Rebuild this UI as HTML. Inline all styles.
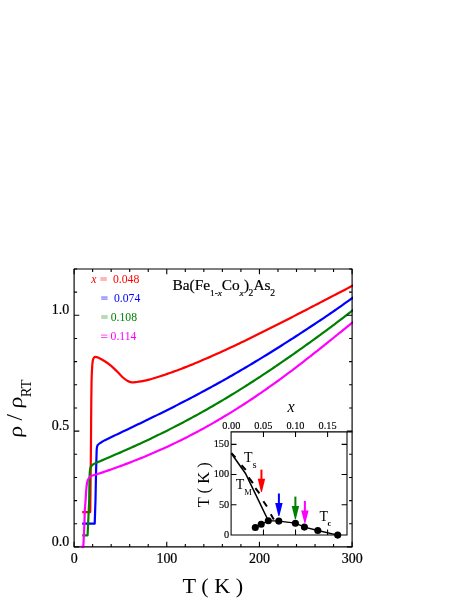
<!DOCTYPE html>
<html><head><meta charset="utf-8"><title>Resistivity</title>
<style>html,body{margin:0;padding:0;background:#fff;}svg{display:block;will-change:transform;}text{font-family:"Liberation Serif",serif;}</style>
</head><body>
<svg width="463" height="599" viewBox="0 0 463 599">
<rect width="463" height="599" fill="#fff"/>
<defs><clipPath id="c"><rect x="74.10" y="269.00" width="278.90" height="279.90"/></clipPath></defs>
<g fill="none" stroke-width="2.20" stroke-linejoin="round" stroke-linecap="butt" clip-path="url(#c)">
<path d="M82.20,512.10 L90.20,512.10 L90.50,490.00 C90.58,481.67 90.87,455.00 91.00,440.00 C91.13,425.00 91.20,410.00 91.30,400.00 C91.40,390.00 91.47,385.33 91.60,380.00 C91.73,374.67 91.90,371.25 92.10,368.00 C92.30,364.75 92.48,362.23 92.80,360.50 C93.12,358.77 93.53,358.20 94.00,357.60 C94.47,357.00 94.93,356.90 95.60,356.90 C96.27,356.90 96.53,356.92 98.00,357.60 C99.47,358.28 102.25,359.67 104.40,361.00 C106.55,362.33 108.73,363.80 110.90,365.60 C113.07,367.40 115.45,369.87 117.40,371.80 C119.35,373.73 120.87,375.67 122.60,377.20 C124.33,378.73 126.30,380.15 127.80,381.00 C129.30,381.85 130.10,382.13 131.60,382.30 C133.10,382.47 135.23,382.14 136.80,382.00 C138.37,381.86 139.63,381.68 141.00,381.45 C142.37,381.22 143.67,380.91 145.00,380.60 C146.33,380.29 147.67,379.97 149.00,379.61 C150.33,379.26 151.67,378.86 153.00,378.46 C154.33,378.07 155.67,377.67 157.00,377.26 C158.33,376.84 159.67,376.42 161.00,375.99 C162.33,375.56 163.67,375.12 165.00,374.67 C166.33,374.22 167.67,373.76 169.00,373.30 C170.33,372.83 171.67,372.36 173.00,371.88 C174.33,371.40 175.67,370.91 177.00,370.42 C178.33,369.92 179.67,369.42 181.00,368.91 C182.33,368.40 183.67,367.89 185.00,367.36 C186.33,366.84 187.67,366.31 189.00,365.78 C190.33,365.25 191.67,364.70 193.00,364.16 C194.33,363.61 195.67,363.06 197.00,362.51 C198.33,361.95 199.67,361.39 201.00,360.82 C202.33,360.26 203.67,359.68 205.00,359.11 C206.33,358.53 207.67,357.95 209.00,357.37 C210.33,356.78 211.67,356.19 213.00,355.60 C214.33,355.00 215.67,354.41 217.00,353.80 C218.33,353.20 219.67,352.60 221.00,351.99 C222.33,351.38 223.67,350.77 225.00,350.15 C226.33,349.54 227.67,348.92 229.00,348.29 C230.33,347.67 231.67,347.05 233.00,346.42 C234.33,345.79 235.67,345.16 237.00,344.52 C238.33,343.89 239.67,343.25 241.00,342.61 C242.33,341.97 243.67,341.33 245.00,340.69 C246.33,340.04 247.67,339.39 249.00,338.74 C250.33,338.09 251.67,337.44 253.00,336.79 C254.33,336.13 255.67,335.48 257.00,334.82 C258.33,334.16 259.67,333.50 261.00,332.84 C262.33,332.18 263.67,331.51 265.00,330.85 C266.33,330.18 267.67,329.51 269.00,328.84 C270.33,328.17 271.67,327.50 273.00,326.83 C274.33,326.16 275.67,325.48 277.00,324.81 C278.33,324.13 279.67,323.45 281.00,322.78 C282.33,322.10 283.67,321.42 285.00,320.74 C286.33,320.06 287.67,319.37 289.00,318.69 C290.33,318.01 291.67,317.32 293.00,316.64 C294.33,315.95 295.67,315.27 297.00,314.58 C298.33,313.89 299.67,313.20 301.00,312.51 C302.33,311.83 303.67,311.14 305.00,310.45 C306.33,309.76 307.67,309.06 309.00,308.37 C310.33,307.68 311.67,306.99 313.00,306.30 C314.33,305.60 315.67,304.91 317.00,304.22 C318.33,303.53 319.67,302.83 321.00,302.14 C322.33,301.44 323.67,300.75 325.00,300.06 C326.33,299.36 327.67,298.67 329.00,297.97 C330.33,297.28 331.67,296.59 333.00,295.89 C334.33,295.20 335.67,294.51 337.00,293.81 C338.33,293.12 339.67,292.43 341.00,291.74 C342.33,291.05 343.67,290.35 345.00,289.66 C346.33,288.97 347.67,288.28 349.00,287.59 C350.33,286.91 352.25,285.92 353.00,285.53 C353.75,285.14 353.42,285.32 353.50,285.27" stroke="#ff0000"/>
<path d="M82.20,523.70 L94.70,523.70 L95.50,500.00 C95.60,495.00 95.92,478.00 96.10,470.00 C96.28,462.00 96.46,455.78 96.60,452.00 C96.74,448.22 96.77,448.43 96.95,447.30 C97.13,446.17 97.28,445.83 97.70,445.20 C98.12,444.57 98.87,443.98 99.50,443.50 C100.13,443.02 100.75,442.78 101.50,442.30 C102.25,441.82 102.92,441.21 104.00,440.61 C105.08,440.01 106.67,439.34 108.00,438.70 C109.33,438.06 110.67,437.43 112.00,436.79 C113.33,436.15 114.67,435.52 116.00,434.88 C117.33,434.24 118.67,433.61 120.00,432.97 C121.33,432.34 122.67,431.70 124.00,431.06 C125.33,430.43 126.67,429.79 128.00,429.15 C129.33,428.52 130.67,427.88 132.00,427.24 C133.33,426.60 134.67,425.96 136.00,425.32 C137.33,424.68 138.67,424.04 140.00,423.40 C141.33,422.75 142.67,422.11 144.00,421.46 C145.33,420.82 146.67,420.17 148.00,419.52 C149.33,418.88 150.67,418.23 152.00,417.57 C153.33,416.92 154.67,416.27 156.00,415.62 C157.33,414.96 158.67,414.30 160.00,413.64 C161.33,412.99 162.67,412.33 164.00,411.66 C165.33,411.00 166.67,410.33 168.00,409.67 C169.33,409.00 170.67,408.33 172.00,407.66 C173.33,406.98 174.67,406.31 176.00,405.63 C177.33,404.95 178.67,404.27 180.00,403.59 C181.33,402.91 182.67,402.22 184.00,401.54 C185.33,400.85 186.67,400.16 188.00,399.46 C189.33,398.77 190.67,398.07 192.00,397.37 C193.33,396.67 194.67,395.97 196.00,395.26 C197.33,394.56 198.67,393.85 200.00,393.14 C201.33,392.43 202.67,391.71 204.00,390.99 C205.33,390.28 206.67,389.55 208.00,388.83 C209.33,388.10 210.67,387.38 212.00,386.65 C213.33,385.91 214.67,385.18 216.00,384.44 C217.33,383.70 218.67,382.96 220.00,382.22 C221.33,381.47 222.67,380.73 224.00,379.98 C225.33,379.22 226.67,378.47 228.00,377.71 C229.33,376.95 230.67,376.19 232.00,375.43 C233.33,374.66 234.67,373.89 236.00,373.12 C237.33,372.35 238.67,371.58 240.00,370.80 C241.33,370.02 242.67,369.24 244.00,368.45 C245.33,367.67 246.67,366.88 248.00,366.09 C249.33,365.30 250.67,364.50 252.00,363.70 C253.33,362.90 254.67,362.10 256.00,361.30 C257.33,360.49 258.67,359.68 260.00,358.87 C261.33,358.06 262.67,357.25 264.00,356.43 C265.33,355.61 266.67,354.79 268.00,353.97 C269.33,353.14 270.67,352.32 272.00,351.49 C273.33,350.66 274.67,349.82 276.00,348.99 C277.33,348.15 278.67,347.31 280.00,346.47 C281.33,345.63 282.67,344.78 284.00,343.94 C285.33,343.09 286.67,342.24 288.00,341.39 C289.33,340.54 290.67,339.68 292.00,338.82 C293.33,337.97 294.67,337.11 296.00,336.24 C297.33,335.38 298.67,334.52 300.00,333.65 C301.33,332.78 302.67,331.91 304.00,331.04 C305.33,330.17 306.67,329.30 308.00,328.42 C309.33,327.55 310.67,326.67 312.00,325.79 C313.33,324.91 314.67,324.03 316.00,323.15 C317.33,322.27 318.67,321.39 320.00,320.50 C321.33,319.61 322.67,318.71 324.00,317.81 C325.33,316.92 326.67,316.01 328.00,315.10 C329.33,314.19 330.67,313.28 332.00,312.36 C333.33,311.44 334.67,310.52 336.00,309.59 C337.33,308.66 338.67,307.73 340.00,306.79 C341.33,305.85 342.67,304.91 344.00,303.96 C345.33,303.02 346.67,302.07 348.00,301.12 C349.33,300.16 351.08,298.90 352.00,298.24 C352.92,297.59 353.25,297.34 353.50,297.16" stroke="#0000ff"/>
<path d="M82.20,535.30 L87.60,535.30 L89.20,500.00 C89.25,496.67 89.38,484.83 89.50,480.00 C89.62,475.17 89.68,473.17 89.90,471.00 C90.12,468.83 90.32,468.05 90.80,467.00 C91.28,465.95 91.93,465.39 92.80,464.70 C93.67,464.01 94.80,463.45 96.00,462.87 C97.20,462.28 98.67,461.75 100.00,461.19 C101.33,460.63 102.67,460.07 104.00,459.50 C105.33,458.94 106.67,458.37 108.00,457.80 C109.33,457.23 110.67,456.66 112.00,456.09 C113.33,455.52 114.67,454.94 116.00,454.36 C117.33,453.78 118.67,453.20 120.00,452.62 C121.33,452.03 122.67,451.45 124.00,450.86 C125.33,450.27 126.67,449.67 128.00,449.08 C129.33,448.48 130.67,447.88 132.00,447.28 C133.33,446.68 134.67,446.07 136.00,445.47 C137.33,444.86 138.67,444.24 140.00,443.63 C141.33,443.01 142.67,442.39 144.00,441.77 C145.33,441.15 146.67,440.52 148.00,439.89 C149.33,439.26 150.67,438.63 152.00,437.99 C153.33,437.35 154.67,436.71 156.00,436.07 C157.33,435.42 158.67,434.77 160.00,434.12 C161.33,433.47 162.67,432.81 164.00,432.15 C165.33,431.48 166.67,430.82 168.00,430.15 C169.33,429.48 170.67,428.80 172.00,428.13 C173.33,427.45 174.67,426.76 176.00,426.08 C177.33,425.39 178.67,424.70 180.00,424.00 C181.33,423.31 182.67,422.61 184.00,421.90 C185.33,421.20 186.67,420.49 188.00,419.77 C189.33,419.06 190.67,418.34 192.00,417.62 C193.33,416.90 194.67,416.17 196.00,415.44 C197.33,414.71 198.67,413.97 200.00,413.23 C201.33,412.49 202.67,411.74 204.00,410.99 C205.33,410.24 206.67,409.49 208.00,408.73 C209.33,407.97 210.67,407.20 212.00,406.43 C213.33,405.66 214.67,404.89 216.00,404.11 C217.33,403.34 218.67,402.55 220.00,401.77 C221.33,400.98 222.67,400.19 224.00,399.39 C225.33,398.59 226.67,397.79 228.00,396.99 C229.33,396.18 230.67,395.37 232.00,394.56 C233.33,393.74 234.67,392.92 236.00,392.10 C237.33,391.28 238.67,390.45 240.00,389.62 C241.33,388.78 242.67,387.95 244.00,387.10 C245.33,386.26 246.67,385.42 248.00,384.57 C249.33,383.72 250.67,382.86 252.00,382.01 C253.33,381.15 254.67,380.28 256.00,379.42 C257.33,378.55 258.67,377.68 260.00,376.80 C261.33,375.93 262.67,375.05 264.00,374.17 C265.33,373.28 266.67,372.40 268.00,371.51 C269.33,370.62 270.67,369.72 272.00,368.82 C273.33,367.92 274.67,367.02 276.00,366.12 C277.33,365.21 278.67,364.30 280.00,363.39 C281.33,362.48 282.67,361.56 284.00,360.64 C285.33,359.72 286.67,358.80 288.00,357.87 C289.33,356.94 290.67,356.01 292.00,355.08 C293.33,354.15 294.67,353.21 296.00,352.27 C297.33,351.33 298.67,350.39 300.00,349.45 C301.33,348.50 302.67,347.56 304.00,346.61 C305.33,345.66 306.67,344.70 308.00,343.75 C309.33,342.79 310.67,341.84 312.00,340.88 C313.33,339.92 314.67,338.96 316.00,337.99 C317.33,337.03 318.67,336.06 320.00,335.09 C321.33,334.12 322.67,333.14 324.00,332.16 C325.33,331.18 326.67,330.19 328.00,329.19 C329.33,328.20 330.67,327.20 332.00,326.19 C333.33,325.19 334.67,324.18 336.00,323.17 C337.33,322.15 338.67,321.13 340.00,320.11 C341.33,319.08 342.67,318.05 344.00,317.02 C345.33,315.99 346.67,314.95 348.00,313.91 C349.33,312.86 351.08,311.49 352.00,310.77 C352.92,310.05 353.25,309.78 353.50,309.59" stroke="#008000"/>
<path d="M81.30,546.90 L83.30,546.90 C83.35,545.92 83.42,544.82 83.60,541.00 C83.78,537.18 84.20,529.00 84.40,524.00 C84.60,519.00 84.60,515.00 84.80,511.00 C85.00,507.00 85.33,503.83 85.60,500.00 C85.87,496.17 86.10,491.10 86.40,488.00 C86.70,484.90 86.90,483.17 87.40,481.40 C87.90,479.63 88.55,478.38 89.40,477.40 C90.25,476.42 91.23,476.03 92.50,475.50 C93.77,474.97 95.58,474.68 97.00,474.24 C98.42,473.81 99.67,473.35 101.00,472.90 C102.33,472.45 103.67,472.00 105.00,471.54 C106.33,471.08 107.67,470.62 109.00,470.16 C110.33,469.69 111.67,469.22 113.00,468.75 C114.33,468.27 115.67,467.80 117.00,467.31 C118.33,466.83 119.67,466.34 121.00,465.85 C122.33,465.36 123.67,464.87 125.00,464.37 C126.33,463.86 127.67,463.36 129.00,462.85 C130.33,462.34 131.67,461.82 133.00,461.30 C134.33,460.78 135.67,460.26 137.00,459.73 C138.33,459.20 139.67,458.66 141.00,458.12 C142.33,457.58 143.67,457.03 145.00,456.48 C146.33,455.93 147.67,455.37 149.00,454.81 C150.33,454.25 151.67,453.68 153.00,453.10 C154.33,452.53 155.67,451.95 157.00,451.36 C158.33,450.78 159.67,450.18 161.00,449.59 C162.33,448.99 163.67,448.39 165.00,447.78 C166.33,447.17 167.67,446.55 169.00,445.93 C170.33,445.31 171.67,444.68 173.00,444.04 C174.33,443.41 175.67,442.77 177.00,442.12 C178.33,441.48 179.67,440.82 181.00,440.16 C182.33,439.50 183.67,438.84 185.00,438.17 C186.33,437.49 187.67,436.81 189.00,436.13 C190.33,435.44 191.67,434.75 193.00,434.06 C194.33,433.36 195.67,432.65 197.00,431.94 C198.33,431.23 199.67,430.51 201.00,429.79 C202.33,429.06 203.67,428.33 205.00,427.60 C206.33,426.86 207.67,426.12 209.00,425.37 C210.33,424.61 211.67,423.86 213.00,423.09 C214.33,422.33 215.67,421.56 217.00,420.78 C218.33,420.01 219.67,419.22 221.00,418.43 C222.33,417.64 223.67,416.85 225.00,416.04 C226.33,415.24 227.67,414.43 229.00,413.61 C230.33,412.80 231.67,411.98 233.00,411.15 C234.33,410.32 235.67,409.48 237.00,408.64 C238.33,407.80 239.67,406.95 241.00,406.09 C242.33,405.24 243.67,404.38 245.00,403.51 C246.33,402.64 247.67,401.77 249.00,400.89 C250.33,400.01 251.67,399.12 253.00,398.23 C254.33,397.34 255.67,396.44 257.00,395.53 C258.33,394.63 259.67,393.71 261.00,392.80 C262.33,391.88 263.67,390.96 265.00,390.03 C266.33,389.10 267.67,388.16 269.00,387.22 C270.33,386.28 271.67,385.33 273.00,384.38 C274.33,383.43 275.67,382.47 277.00,381.51 C278.33,380.54 279.67,379.57 281.00,378.60 C282.33,377.62 283.67,376.64 285.00,375.66 C286.33,374.67 287.67,373.68 289.00,372.69 C290.33,371.69 291.67,370.69 293.00,369.68 C294.33,368.68 295.67,367.66 297.00,366.65 C298.33,365.63 299.67,364.61 301.00,363.58 C302.33,362.56 303.67,361.53 305.00,360.49 C306.33,359.46 307.67,358.42 309.00,357.37 C310.33,356.33 311.67,355.28 313.00,354.23 C314.33,353.18 315.67,352.12 317.00,351.06 C318.33,350.00 319.67,348.94 321.00,347.87 C322.33,346.81 323.67,345.74 325.00,344.67 C326.33,343.60 327.67,342.53 329.00,341.46 C330.33,340.39 331.67,339.31 333.00,338.24 C334.33,337.17 335.67,336.09 337.00,335.01 C338.33,333.94 339.67,332.86 341.00,331.78 C342.33,330.71 343.67,329.63 345.00,328.55 C346.33,327.47 347.67,326.39 349.00,325.31 C350.33,324.23 352.25,322.68 353.00,322.07 C353.75,321.47 353.42,321.74 353.50,321.67" stroke="#ff00ff"/>
</g>
<g stroke="#000" stroke-width="1.15" fill="none" stroke-linejoin="round">
<rect x="74.10" y="269.00" width="278.00" height="277.90"/>
</g>
<path d="M74.10,546.90v-5.20M74.10,269.00v5.20M92.63,546.90v-3.00M92.63,269.00v3.00M111.17,546.90v-3.00M111.17,269.00v3.00M129.70,546.90v-3.00M129.70,269.00v3.00M148.23,546.90v-3.00M148.23,269.00v3.00M166.77,546.90v-5.20M166.77,269.00v5.20M185.30,546.90v-3.00M185.30,269.00v3.00M203.83,546.90v-3.00M203.83,269.00v3.00M222.37,546.90v-3.00M222.37,269.00v3.00M240.90,546.90v-3.00M240.90,269.00v3.00M259.43,546.90v-5.20M259.43,269.00v5.20M277.97,546.90v-3.00M277.97,269.00v3.00M296.50,546.90v-3.00M296.50,269.00v3.00M315.03,546.90v-3.00M315.03,269.00v3.00M333.57,546.90v-3.00M333.57,269.00v3.00M352.10,546.90v-5.20M352.10,269.00v5.20M74.10,546.90h5.20M352.10,546.90h-5.20M74.10,523.74h3.00M352.10,523.74h-3.00M74.10,500.58h3.00M352.10,500.58h-3.00M74.10,477.43h3.00M352.10,477.43h-3.00M74.10,454.27h3.00M352.10,454.27h-3.00M74.10,431.11h5.20M352.10,431.11h-5.20M74.10,407.95h3.00M352.10,407.95h-3.00M74.10,384.79h3.00M352.10,384.79h-3.00M74.10,361.64h3.00M352.10,361.64h-3.00M74.10,338.48h3.00M352.10,338.48h-3.00M74.10,315.32h5.20M352.10,315.32h-5.20M74.10,292.16h3.00M352.10,292.16h-3.00M74.10,269.00h3.00M352.10,269.00h-3.00" stroke="#000" stroke-width="1.10" fill="none"/>
<g font-size="15.50px" fill="#000" stroke="#000" stroke-width="0.25">
<text transform="translate(74.20,563.40) scale(0.900,1)" text-anchor="middle">0</text>
<text transform="translate(166.87,563.40) scale(0.900,1)" text-anchor="middle">100</text>
<text transform="translate(259.53,563.40) scale(0.900,1)" text-anchor="middle">200</text>
<text transform="translate(352.20,563.40) scale(0.900,1)" text-anchor="middle">300</text>
<text transform="translate(69.10,546.00) scale(0.900,1)" text-anchor="end">0.0</text>
<text transform="translate(69.10,430.21) scale(0.900,1)" text-anchor="end">0.5</text>
<text transform="translate(69.10,314.42) scale(0.900,1)" text-anchor="end">1.0</text>
</g>
<path d="M80.6,546.9H84" stroke="#ff00ff" stroke-width="2.4" opacity="0.45" fill="none"/>
<g fill="#ff0000" font-size="11.70px"><text x="91.3" y="283.10" font-style="italic">x</text><path d="M100.40,278.00h6.4M100.40,280.00h6.4" stroke="#ff0000" stroke-width="1.6" opacity="0.38"/><text x="113.00" y="283.10">0.048</text></g>
<g fill="#0000ff" font-size="11.70px"><path d="M101.20,297.10h6.4M101.20,299.10h6.4" stroke="#0000ff" stroke-width="1.6" opacity="0.38"/><text x="114.00" y="301.60">0.074</text></g>
<g fill="#008000" font-size="11.70px"><path d="M101.20,316.00h6.4M101.20,318.00h6.4" stroke="#008000" stroke-width="1.6" opacity="0.38"/><text x="110.70" y="320.90">0.108</text></g>
<g fill="#ff00ff" font-size="11.70px"><path d="M101.00,335.10h6.4M101.00,337.50h6.4" stroke="#ff00ff" stroke-width="0.9" opacity="0.8"/><text x="110.60" y="339.90">0.114</text></g>
<g font-size="15.4px" fill="#000" stroke="#000" stroke-width="0.2"><text x="172.5" y="289.6">Ba(Fe</text><text x="210.1" y="295.8" font-size="9.2px">1-<tspan font-style="italic">x</tspan></text><text x="221.8" y="289.6">Co</text><text x="239.6" y="295.8" font-size="9.2px" font-style="italic">x</text><text x="244.1" y="289.6">)</text><text x="248.4" y="295.8" font-size="9.5px">2</text><text x="253.5" y="289.6">As</text><text x="270.3" y="295.8" font-size="9.5px">2</text></g>
<text transform="translate(182.5,592.6) scale(1.06,1)" font-size="21px" fill="#000">T ( K )</text>
<g fill="#000">
<text transform="translate(21.6,437.9) rotate(-90) scale(1.18,1) skewX(-4)" font-size="20px">ρ</text>
<text transform="translate(22.2,420.6) rotate(-90)" font-size="23px">/</text>
<text transform="translate(21.6,408.8) rotate(-90) scale(1.18,1) skewX(-4)" font-size="20px">ρ</text>
<text transform="translate(31.1,397.3) rotate(-90) scale(0.97,1)" font-size="15px">RT</text>
</g>
<g stroke="#000" stroke-width="1.05" fill="none">
<path d="M231.10,535.60V431.85H352.50M230.50,535.00H347.00V431.85"/>
</g>
<path d="M263.47,431.85v5.1M263.47,535.00v-5.5M295.53,431.85v5.1M295.53,535.00v-5.5M327.60,431.85v5.1M327.60,535.00v-5.5M231.10,504.79h5.4M347.00,504.79h-5.4M231.10,474.57h5.4M347.00,474.57h-5.4M231.10,444.36h5.4M347.00,444.36h-5.4" stroke="#000" stroke-width="1.05" fill="none"/>
<g font-size="11px" fill="#000" stroke="#000" stroke-width="0.15">
<text transform="translate(231.30,428.9) scale(0.94,1.03)" text-anchor="middle">0.00</text>
<text transform="translate(263.37,428.9) scale(0.94,1.03)" text-anchor="middle">0.05</text>
<text transform="translate(295.43,428.9) scale(0.94,1.03)" text-anchor="middle">0.10</text>
<text transform="translate(327.50,428.9) scale(0.94,1.03)" text-anchor="middle">0.15</text>
<text transform="translate(229.2,537.90) scale(0.94,1.03)" text-anchor="end">0</text>
<text transform="translate(229.2,507.69) scale(0.94,1.03)" text-anchor="end">50</text>
<text transform="translate(229.2,477.47) scale(0.94,1.03)" text-anchor="end">100</text>
<text transform="translate(229.2,447.25) scale(0.94,1.03)" text-anchor="end">150</text>
</g>
<text x="287.5" y="411.5" font-size="16px" font-style="italic" fill="#000">x</text>
<text transform="translate(208.85,507.3) rotate(-90)" font-size="16.5px" fill="#000">T ( K )</text>
<path d="M231.4,453.5L245.5,473.5L267,518" stroke="#000" stroke-width="1.5" fill="none"/>
<path d="M231.4,453.1L235.4,457.5M241.5,465.2L245.8,469.9M248.6,477.3L252.9,483.2M255.4,488.2L259.4,493.3M263.4,501.3L266.9,506.5M270.8,514.2L273.8,519.4" stroke="#000" stroke-width="2.0" fill="none"/>
<path d="M255.3,527.5L261.2,524.3L268.3,520.7L278.8,521.1L295.4,523.2L304.4,527.1L317.8,530.5L337.7,535.1" stroke="#000" stroke-width="1.3" fill="none"/>
<circle cx="255.30" cy="527.50" r="3.55" fill="#000"/>
<circle cx="261.20" cy="524.30" r="3.55" fill="#000"/>
<circle cx="268.30" cy="520.70" r="3.55" fill="#000"/>
<circle cx="278.80" cy="521.10" r="3.55" fill="#000"/>
<circle cx="295.40" cy="523.20" r="3.55" fill="#000"/>
<circle cx="304.40" cy="527.10" r="3.55" fill="#000"/>
<circle cx="317.80" cy="530.50" r="3.55" fill="#000"/>
<circle cx="337.70" cy="535.10" r="3.55" fill="#000"/>
<path d="M261.45,469.60V479.70" stroke="#ff0000" stroke-width="2"/><path d="M257.75,478.70L265.15,478.70L261.90,492.00L261.00,492.00Z" fill="#ff0000"/>
<path d="M278.90,493.50V503.90" stroke="#0000ff" stroke-width="2"/><path d="M275.20,502.90L282.60,502.90L279.35,516.10L278.45,516.10Z" fill="#0000ff"/>
<path d="M295.40,496.60V507.00" stroke="#008000" stroke-width="2"/><path d="M291.70,506.00L299.10,506.00L295.85,519.30L294.95,519.30Z" fill="#008000"/>
<path d="M304.90,500.90V511.40" stroke="#ff00ff" stroke-width="2"/><path d="M301.20,510.40L308.60,510.40L305.35,523.10L304.45,523.10Z" fill="#ff00ff"/>
<text x="244.1" y="462.0" font-size="14px" fill="#000">T<tspan font-size="10.5px" dy="5.9" dx="-0.2">s</tspan></text>
<text x="235.8" y="488.9" font-size="14px" fill="#000">T<tspan font-size="8.5px" dy="6.1">M</tspan></text>
<text x="319.4" y="520.8" font-size="14px" fill="#000">T<tspan font-size="8.3px" dy="5.5" dx="-0.4" font-weight="bold">c</tspan></text>
</svg></body></html>
